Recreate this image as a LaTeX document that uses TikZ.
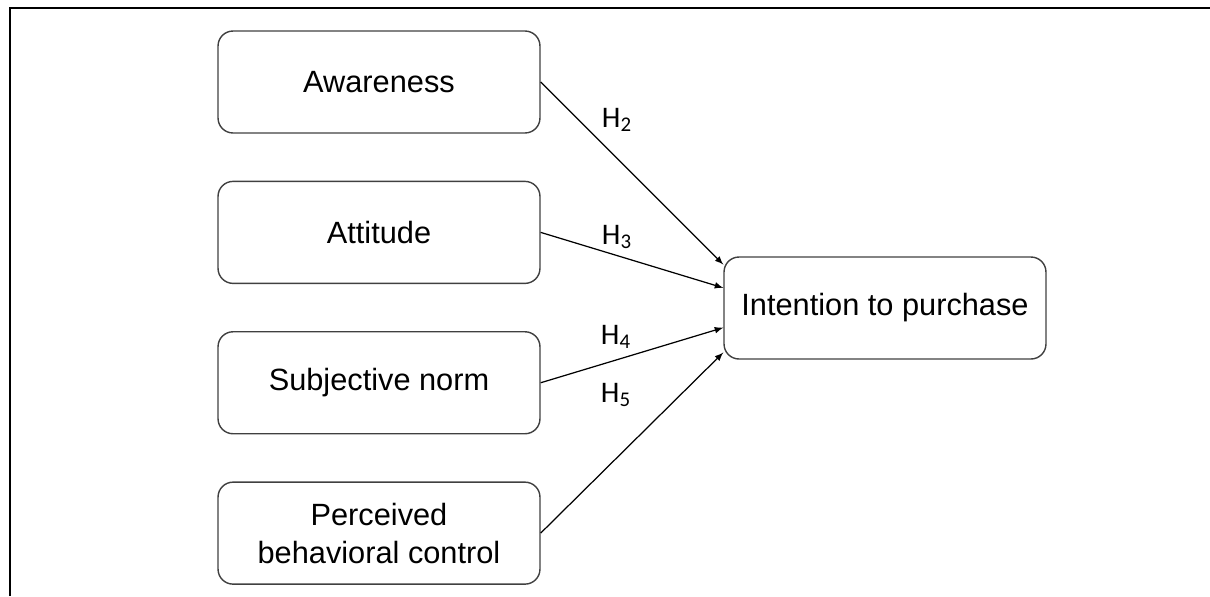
\documentclass[tikz,border=0pt]{standalone}
\usepackage{fontspec}
\setmainfont{Liberation Sans}
\newfontfamily\hfont{Carlito}
\usetikzlibrary{positioning, arrows, calc}

\begin{document}
\begin{tikzpicture}[x=0.02cm, y=-0.02cm]
\tikzstyle{box}=[rectangle, rounded corners=0.3cm, draw=black!75, line width=0.8pt,
  minimum width=6.44cm, minimum height=2.04cm, align=center,
  font=\fontsize{17.5}{21.5}\selectfont, node distance=0.94cm]
\tikzstyle{connect}=[-latex, line width=0.7pt]
\tikzstyle{hyp}=[font=\hfont\fontsize{17}{19}\selectfont, inner sep=0pt]
\useasboundingbox (0,0) rectangle (1210,596);
% 1. Frame
%%%%%%%%%%
\draw[line width=1.5pt] (10,596) -- (10,8) -- (1210,8);
% 2. Nodes
%%%%%%%%%%
\node[box] (aware) at (379,82) {Awareness};
\node[box] (attit) [below=of aware] {Attitude};
\node[box] (subj) [below=of attit] {Subjective norm};
\node[box] (pbc) [below=of subj] {Perceived\\behavioral control};
\node[box] (intent) at (885,308) {Intention to purchase};

\coordinate (in2) at ($(intent.north west)!0.08!(intent.south west)$);
\coordinate (in3) at ($(intent.north west)!0.305!(intent.south west)$);
\coordinate (in4) at ($(intent.north west)!0.69!(intent.south west)$);
\coordinate (in5) at ($(intent.north west)!0.93!(intent.south west)$);

\node[hyp] (h2) at (617,120) {H\textsubscript{2}};
\node[hyp] (h3) at (617,237) {H\textsubscript{3}};
\node[hyp] (h4) at (616,337) {H\textsubscript{4}};
\node[hyp] (h5) at (616,395) {H\textsubscript{5}};
% 3. Arrows
%%%%%%%%%%%
\path (aware.east) edge [connect] (in2)
      (attit.east) edge [connect] (in3)
      (subj.east)  edge [connect] (in4)
      (pbc.east)   edge [connect] (in5);

\end{tikzpicture}
\end{document}
